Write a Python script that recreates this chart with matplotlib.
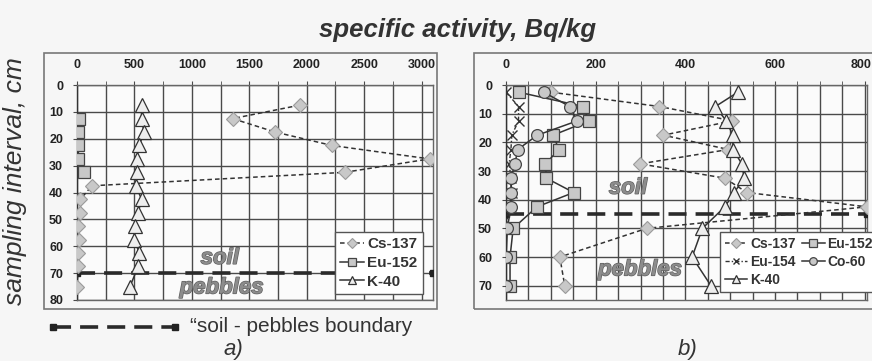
import numpy as np
import matplotlib.pyplot as plt
from matplotlib.patches import Rectangle
from matplotlib.lines import Line2D
from matplotlib.transforms import ScaledTranslation
import matplotlib.patheffects as pe

plt.rcParams['font.family'] = ['Liberation Sans', 'DejaVu Sans']

# ---- panel a) ----
a_cs_depth = [7.5, 12.5, 17.5, 22.5, 27.5, 32.5, 37.5, 42.5, 47.5, 52.5, 57.5, 62.5, 67.5, 75]
a_cs_val = [1940, 1355, 1725, 2220, 3070, 2330, 130, 30, 30, 10, 15, 10, 10, 0]
a_eu152_depth = [12.5, 17.5, 22.5, 27.5, 32.5]
a_eu152_val = [17, 12, 12, 12, 65]
a_k40_depth = [7.5, 12.5, 17.5, 22.5, 27.5, 32.5, 37.5, 42.5, 47.5, 52.5, 57.5, 62.5, 67.5, 75]
a_k40_val = [562, 562, 583, 542, 519, 519, 513, 562, 533, 504, 498, 542, 533, 461]
a_boundary = 70

# ---- panel b) ----
b_depth = [2.5, 7.5, 12.5, 17.5, 22.5, 27.5, 32.5, 37.5, 42.5, 50, 60, 70]
b_cs137 = [100, 342, 505, 351, 496, 299, 488, 537, 805, 314, 120, 131]
b_eu152 = [28, 172, 185, 105, 118, 88, 90, 151, 69, 16, 9, 9]
b_eu154 = [0, 28, 28, 13, 11, 7, 11, 13, 7, 0, 0, 0]
b_co60 = [84, 142, 159, 70, 26, 20, 11, 11, 11, 3, 0, 0]
b_k40 = [517, 467, 491, 506, 506, 526, 531, 509, 488, 438, 415, 457]
b_boundary = 45

DARK = '#333333'
GRID = '#4a4a4a'
FILL = '#c8c8c8'

fig = plt.figure(figsize=(8.72, 3.61), dpi=100)
fig.patch.set_facecolor('#f6f6f6')

W, H = 872.0, 361.0
def box(x0, y0, x1, y1):
    return [x0 / W, 1 - y1 / H, (x1 - x0) / W, (y1 - y0) / H]

# outer chart frames
for x0, x1 in [(44, 437), (474, 880)]:
    fig.patches.append(Rectangle((x0 / W, 1 - 309 / H), (x1 - x0) / W, 256 / H,
                                 transform=fig.transFigure, fill=False,
                                 edgecolor='#777777', lw=1.2))

axa = fig.add_axes(box(77, 85, 433, 300))
axb = fig.add_axes(box(506, 85, 867, 300))

cs_style = dict(color=DARK, ls=(0, (3, 2)), lw=1.1, marker='D', ms=7.5,
                mfc=FILL, mec='#9a9a9a', mew=0.8)
eu152_style = dict(color=DARK, ls='-', lw=1.1, marker='s', ms=8.5, mfc=FILL, mec='#444444', mew=0.9)
k40_style = dict(color=DARK, ls='-', lw=1.1, marker='^', ms=9.5, mfc='#eeeeee', mec='#333333', mew=0.9)
eu154_style = dict(color=DARK, ls=(0, (3, 1.5, 1, 1.5)), lw=1.0, marker='x', ms=7.5, mec='#333333', mew=1.0)
co60_style = dict(color=DARK, ls='-', lw=1.1, marker='o', ms=8.5, mfc=FILL, mec='#444444', mew=0.9)
bnd_style = dict(color='#2a2a2a', ls=(0, (5, 2.5)), lw=2.6, marker='s', ms=4.5,
                 mfc='#222222', mec='#222222', markevery=[0, -1])

def style_axes(ax, xmax, xstep, ymax, ystep, xticks):
    ax.set_facecolor('#fbfbfb')
    ax.set_xlim(0, xmax)
    ax.set_ylim(ymax, 0)
    ax.xaxis.tick_top()
    ax.set_xticks(np.arange(0, xmax + 1, xstep), minor=True)
    ax.set_xticks(xticks)
    ax.set_yticks(np.arange(0, ymax + 1, ystep))
    ax.grid(True, which='both', color=GRID, lw=1.0)
    ax.tick_params(axis='x', which='both', direction='out', length=3, color=GRID, pad=7,
                   labelsize=9, labelcolor='#222222')
    ax.tick_params(axis='y', direction='out', length=3, color=GRID, pad=7,
                   labelsize=9, labelcolor='#222222')
    for lab in ax.get_xticklabels() + ax.get_yticklabels():
        lab.set_fontweight('bold')
    for s in ax.spines.values():
        s.set_color('#666666')
        s.set_linewidth(1.0)
    ax.spines['left'].set_color(DARK)
    ax.set_axisbelow(True)

style_axes(axa, 3100, 250, 80, 10, [0, 500, 1000, 1500, 2000, 2500, 3000])
style_axes(axb, 805, 50, 75, 10, [0, 200, 400, 600, 800])
# keep the last tick label of b inside the picture
last = axb.get_xticklabels()[-1]
last.set_transform(last.get_transform() + ScaledTranslation(-4 / 100, 0, fig.dpi_scale_trans))

# panel a lines
axa.plot([0, 3100], [a_boundary, a_boundary], zorder=3, **bnd_style)
axa.plot(a_cs_val, a_cs_depth, label='Cs-137', zorder=4, **cs_style)
axa.plot(a_eu152_val, a_eu152_depth, label='Eu-152', zorder=4, **eu152_style)
axa.plot(a_k40_val, a_k40_depth, label='K-40', zorder=4, **k40_style)

# panel b lines
axb.plot([0, 805], [b_boundary, b_boundary], zorder=3, **bnd_style)
hb_cs, = axb.plot(b_cs137, b_depth, label='Cs-137', zorder=4, **cs_style)
hb_eu4, = axb.plot(b_eu154, b_depth, label='Eu-154', zorder=4, **eu154_style)
hb_k, = axb.plot(b_k40, b_depth, label='K-40', zorder=4, **k40_style)
hb_eu2, = axb.plot(b_eu152, b_depth, label='Eu-152', zorder=4, **eu152_style)
hb_co, = axb.plot(b_co60, b_depth, label='Co-60', zorder=4, **co60_style)

leg_kw = dict(frameon=True, fancybox=False, framealpha=1, borderaxespad=0,
              edgecolor='#555555', facecolor='white', handlelength=1.6,
              handletextpad=0.2, borderpad=0.35, labelspacing=0.3, markerscale=0.65)
la = axa.legend(loc='lower right', bbox_to_anchor=(0.972, 0.028),
                prop={'weight': 'bold', 'size': 11}, **leg_kw)
lb = axb.legend(handles=[hb_cs, hb_eu4, hb_k, hb_eu2, hb_co], ncol=2, columnspacing=0.5,
                loc='lower left', bbox_to_anchor=(0.593, 0.037),
                prop={'weight': 'bold', 'size': 10}, **leg_kw)
for lg in (la, lb):
    lg.get_frame().set_linewidth(1.0)
    lg.set_zorder(6)
    for t in lg.get_texts():
        t.set_color(DARK)

# soil / pebbles labels
txt_kw = dict(fontsize=16, fontweight='bold', fontstyle='italic', color='#8c8c8c',
              ha='center', va='center', zorder=5,
              path_effects=[pe.withStroke(linewidth=1.0, foreground='#606060')])
axa.text(1243, 64.5, 'soil', **txt_kw)
axa.text(1260, 75.5, 'pebbles', **txt_kw)
axb.text(272, 36, 'soil', **txt_kw)
axb.text(299, 64.5, 'pebbles', **txt_kw)

# titles
fig.text(458 / W, 1 - 30 / H, 'specific activity, Bq/kg', ha='center', va='center',
         fontsize=18.5, fontweight='bold', fontstyle='italic', color=DARK)
fig.text(15 / W, 1 - 181 / H, 'sampling interval, cm', ha='center', va='center',
         rotation=90, fontsize=19, fontstyle='italic', color=DARK)

# boundary legend below panel a
fig.add_artist(Line2D([53 / W, 175 / W], [1 - 327 / H, 1 - 327 / H], transform=fig.transFigure,
                      **bnd_style))
fig.text(190 / W, 1 - 326 / H, '\u201csoil - pebbles boundary', ha='left', va='center',
         fontsize=15, color=DARK)
fig.text(233 / W, 1 - 349 / H, 'a)', ha='center', va='center', fontsize=16,
         fontstyle='italic', color=DARK)
fig.text(688 / W, 1 - 349 / H, 'b)', ha='center', va='center', fontsize=16,
         fontstyle='italic', color=DARK)

fig.savefig('out.png', dpi=100, facecolor=fig.get_facecolor())
